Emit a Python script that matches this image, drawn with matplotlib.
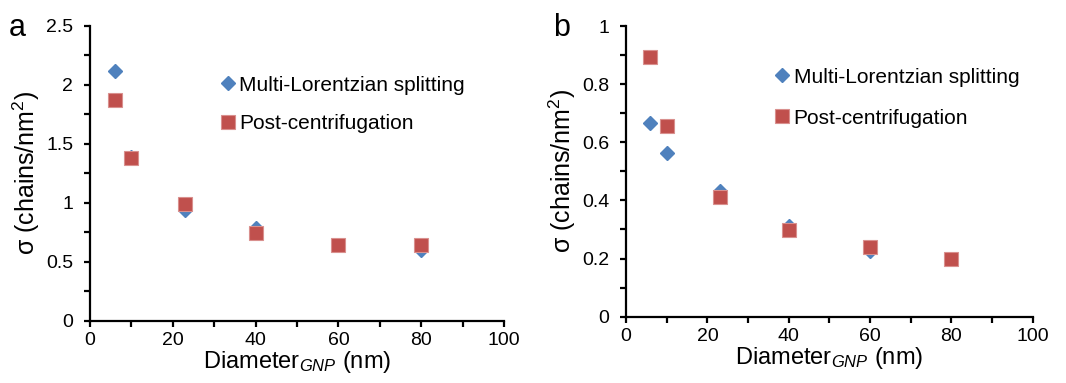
import matplotlib
matplotlib.use('Agg')
import matplotlib.pyplot as plt
from matplotlib.ticker import MultipleLocator

# Data ######################################################################
diameter = [6, 10, 23, 40, 60, 80]  # nm
# Panel a
a_lorentz = [2.12, 1.39, 0.94, 0.79, 0.64, 0.60]
a_centrif = [1.87, 1.38, 0.99, 0.74, 0.64, 0.64]
# Panel b
b_lorentz = [0.665, 0.563, 0.433, 0.312, 0.227, 0.20]
b_centrif = [0.894, 0.656, 0.413, 0.298, 0.241, 0.20]

label_lorentz = 'Multi-Lorentzian splitting'
label_centrif = 'Post-centrifugation'

blue = '#4F81BD'
red = '#C0504D'

plt.rcParams['font.family'] = ['Liberation Sans', 'DejaVu Sans']
plt.rcParams['mathtext.fontset'] = 'custom'
plt.rcParams['mathtext.it'] = 'Liberation Sans:italic'
plt.rcParams['mathtext.rm'] = 'Liberation Sans'

fig = plt.figure(figsize=(10.66, 3.83), dpi=100)
ax_a = fig.add_axes([0.0844, 0.1627, 0.3884, 0.7695])
ax_b = fig.add_axes([0.5873, 0.1731, 0.3815, 0.7590])


def style_axes(ax, ymax, ymajor, yminor):
    ax.set_xlim(0, 100)
    ax.set_ylim(0, ymax)
    for side in ['top', 'right']:
        ax.spines[side].set_visible(False)
    for side in ['left', 'bottom']:
        ax.spines[side].set_linewidth(1.6)
    ax.xaxis.set_major_locator(MultipleLocator(20))
    ax.xaxis.set_minor_locator(MultipleLocator(10))
    ax.yaxis.set_major_locator(MultipleLocator(ymajor))
    ax.yaxis.set_minor_locator(MultipleLocator(yminor))
    ax.yaxis.set_major_formatter(plt.FuncFormatter(lambda v, pos: '%g' % v))
    ax.tick_params(which='both', direction='out', length=4, width=1.6,
                   labelsize=14, pad=4)
    ax.tick_params(axis='y', which='major', pad=8)
    ax.set_xlabel('Diameter$_{GNP}$ (nm)', fontsize=17, labelpad=0)
    ax.set_ylabel('σ (chains/nm$^2$)', fontsize=18, labelpad=3)


style_axes(ax_a, 2.5, 0.5, 0.25)
style_axes(ax_b, 1.0, 0.2, 0.1)

for ax, yl, yc in [(ax_a, a_lorentz, a_centrif), (ax_b, b_lorentz, b_centrif)]:
    ax.plot(diameter, yl, linestyle='none', marker='D', markersize=7.5,
            color=blue, markeredgecolor=blue, label=label_lorentz,
            clip_on=False)
    ax.plot(diameter, yc, linestyle='none', marker='s', markersize=10,
            color=red, markeredgecolor='#D9908E', markeredgewidth=0.8,
            label=label_centrif, clip_on=False)

ax_a.legend(loc='upper left', bbox_to_anchor=(0.275, 0.86), frameon=False,
            fontsize=15, handletextpad=-0.2, labelspacing=0.95,
            handlelength=1.5, borderaxespad=0)
ax_b.legend(loc='upper left', bbox_to_anchor=(0.325, 0.885), frameon=False,
            fontsize=15, handletextpad=-0.2, labelspacing=1.05,
            handlelength=1.5, borderaxespad=0)

fig.text(0.008, 0.905, 'a', fontsize=22)
fig.text(0.519, 0.905, 'b', fontsize=22)

fig.savefig('out.png', dpi=100)
